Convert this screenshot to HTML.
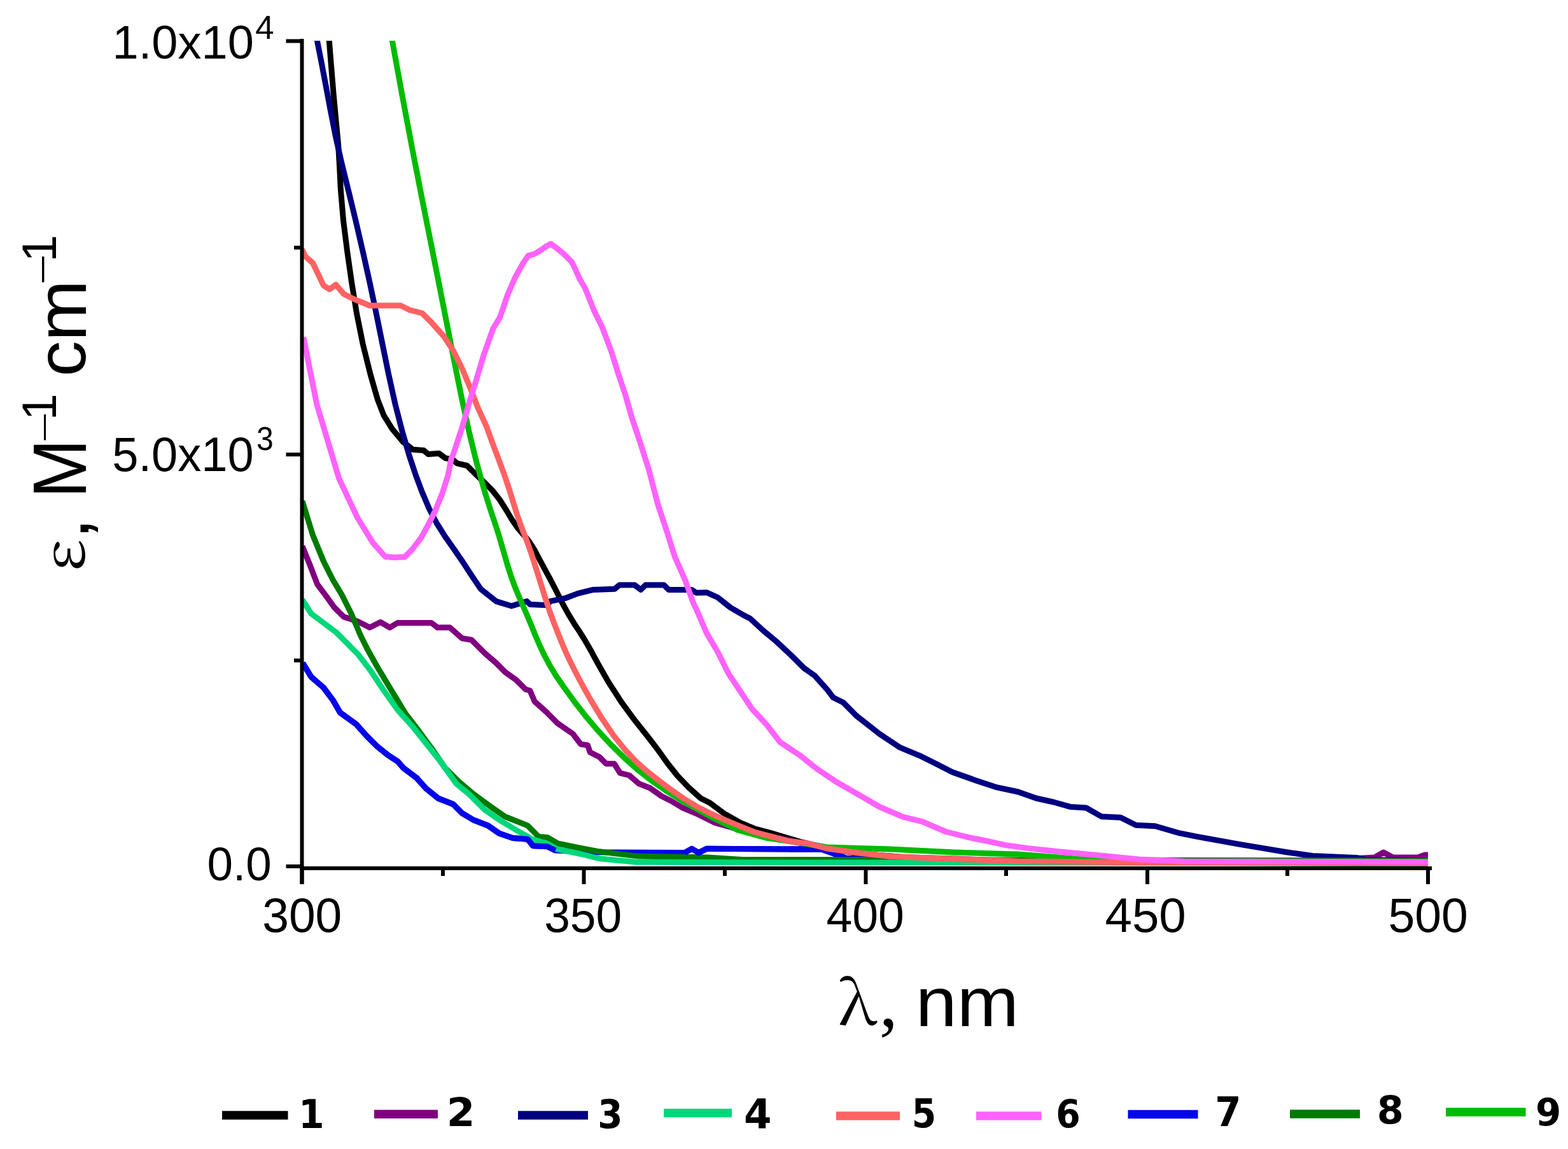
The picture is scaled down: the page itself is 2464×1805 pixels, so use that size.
<!DOCTYPE html>
<html><head><meta charset="utf-8"><title>Molar absorptivity spectra</title>
<style>
html,body{margin:0;padding:0;background:#fff;}
body{width:2464px;height:1805px;overflow:hidden;}
svg{display:block;}
.sans{font-family:"Liberation Sans",Arial,sans-serif;}
</style></head>
<body>
<svg width="2464" height="1805" viewBox="0 0 2464 1805">
<rect width="2464" height="1805" fill="#fff"/>
<defs><clipPath id="plot"><rect x="474" y="64" width="1776" height="1300"/></clipPath></defs>
<g clip-path="url(#plot)" fill="none" stroke-width="9" stroke-linejoin="round" stroke-linecap="butt">
<polyline points="517.2,58.0 517.4,65.7 520.3,101.4 523.9,145.4 528.1,190.8 531.6,227.4 533.4,258.2 535.4,298.4 539.6,346.8 545.7,395.2 552.6,443.7 560.5,492.1 570.2,540.5 582.3,589.0 593.6,628.2 603.0,652.4 616.2,673.6 633.1,693.9 648.9,706.3 665.8,707.5 673.0,713.6 690.0,712.3 699.7,719.6 711.8,722.0 718.2,727.8 733.9,731.5 747.4,744.9 760.8,757.5 773.7,770.4 785.6,785.5 796.0,802.0 805.0,817.2 813.9,829.9 823.3,840.7 832.0,851.3 839.9,863.9 847.9,879.0 856.3,894.6 864.9,910.5 874.3,928.7 884.0,948.1 893.4,965.2 902.0,979.2 910.5,992.0 918.7,1005.0 927.6,1020.4 939.3,1042.0 956.0,1071.2 976.5,1103.0 997.7,1131.8 1017.5,1156.6 1034.7,1179.1 1049.4,1199.6 1064.7,1218.9 1082.5,1237.3 1101.5,1254.3 1116.0,1261.6 1137.8,1277.9 1163.2,1292.4 1185.0,1301.5 1212.2,1308.8 1230.4,1314.2 1260.0,1323.0 1300.0,1332.0 1350.0,1341.0 1450.0,1349.0 1600.0,1353.0 1800.0,1355.0 2244.0,1355.0" stroke="#000000"/>
<polyline points="475.0,858.0 486.6,886.5 498.7,918.0 513.3,937.4 525.4,954.3 540.0,968.9 561.7,976.0 581.0,985.8 598.0,977.3 612.5,985.8 624.6,978.5 677.9,978.5 687.6,985.8 707.0,985.8 726.3,1002.8 740.9,1005.2 762.7,1027.0 779.6,1041.5 794.0,1056.0 811.0,1068.0 825.6,1082.7 832.9,1085.0 840.0,1101.8 858.2,1118.1 876.3,1136.3 900.0,1152.6 912.6,1169.0 923.5,1170.8 927.2,1181.7 941.7,1189.0 952.6,1199.8 965.3,1199.8 974.4,1214.4 988.9,1218.0 1003.4,1230.7 1021.6,1238.0 1039.7,1250.7 1054.3,1258.0 1072.4,1268.8 1097.8,1279.7 1123.3,1292.4 1150.0,1300.0 1200.0,1312.0 1240.0,1320.0 1300.0,1334.0 1400.0,1346.0 1500.0,1349.0 1600.0,1353.0 2100.0,1352.0 2140.0,1348.0 2160.0,1347.0 2174.0,1339.0 2189.0,1347.0 2228.0,1347.0 2239.0,1343.0 2244.0,1343.0" stroke="#800080"/>
<polyline points="498.3,58.0 498.7,65.7 505.3,98.9 512.2,135.3 519.4,174.0 527.1,213.0 536.3,253.8 547.4,298.8 559.0,346.7 570.2,395.2 581.0,443.7 591.2,492.1 601.0,540.5 610.8,588.6 621.1,635.0 632.1,677.8 642.9,715.0 653.3,746.4 663.7,774.1 674.6,799.5 686.3,822.0 699.1,842.3 713.0,862.2 726.8,882.1 739.9,902.2 755.4,925.3 779.6,944.6 803.8,952.0 828.0,944.6 833.0,949.5 860.0,950.7 864.2,944.6 888.4,939.7 907.8,932.4 932.0,926.4 965.9,925.2 973.2,919.1 997.4,919.1 1007.0,926.4 1014.3,919.1 1043.4,919.1 1050.7,926.4 1087.0,926.4 1094.2,931.2 1110.8,930.8 1127.8,938.5 1148.1,954.6 1168.5,966.4 1178.6,971.5 1199.0,990.2 1219.3,1007.1 1243.0,1029.2 1263.4,1049.5 1280.3,1061.4 1300.0,1083.4 1309.3,1095.7 1325.0,1103.5 1345.7,1124.4 1382.2,1153.0 1413.4,1173.8 1444.6,1186.8 1470.7,1199.8 1496.7,1212.9 1533.1,1225.9 1564.3,1236.3 1600.0,1244.0 1628.3,1254.0 1655.4,1260.0 1682.5,1267.6 1706.7,1269.0 1730.8,1282.7 1761.0,1284.2 1785.0,1296.3 1815.2,1297.8 1851.4,1308.3 1881.6,1314.4 1914.7,1320.4 1948.0,1326.4 1984.0,1332.4 2020.3,1338.5 2062.5,1344.5 2131.9,1347.5 2147.0,1350.5 2244.0,1352.0" stroke="#000080"/>
<polyline points="1240.0,1334.0 1290.0,1334.0 1330.0,1348.0 1500.0,1354.0 2244.0,1355.0" stroke="#0505EA"/>
<polyline points="475.7,1041.5 489.0,1063.3 508.4,1080.2 523.0,1099.6 534.5,1119.5 559.3,1137.3 576.3,1156.2 592.7,1172.6 609.0,1185.7 625.4,1196.6 633.8,1206.4 655.1,1222.4 669.3,1238.4 688.8,1254.3 711.9,1263.2 726.0,1277.4 743.8,1288.0 766.9,1297.0 784.6,1309.3 805.9,1316.4 829.0,1318.2 837.8,1328.8 860.0,1329.7 872.7,1336.0 930.8,1338.7 1076.0,1339.6 1087.0,1333.3 1097.8,1339.6 1110.5,1333.3 1240.0,1334.0 1290.0,1334.0" stroke="#0505EA"/>
<polyline points="475.0,787.0 491.5,840.5 508.4,881.7 523.0,910.7 537.5,935.0 552.0,964.0 566.5,998.0 577.4,1020.0 592.7,1047.2 609.0,1074.5 627.6,1105.0 637.4,1121.3 655.1,1144.3 679.9,1178.0 699.5,1206.4 720.7,1227.7 743.8,1247.2 770.4,1266.7 793.5,1282.7 829.0,1296.9 846.7,1314.6 860.0,1315.5 876.3,1325.0 912.6,1332.4 941.7,1337.8 1003.4,1345.1 1112.4,1347.0 1166.8,1350.5 1240.0,1350.5 2244.0,1352.0" stroke="#007A00"/>
<polyline points="475.0,942.0 489.0,964.0 508.4,978.5 527.8,993.0 547.2,1012.4 563.3,1028.7 581.8,1052.7 603.6,1085.4 625.4,1116.0 647.2,1140.0 669.0,1167.1 690.8,1194.4 717.2,1231.3 736.7,1247.2 761.6,1272.0 784.6,1288.0 811.2,1304.0 836.0,1318.2 860.0,1325.3 876.3,1334.2 912.6,1341.5 941.7,1348.7 999.8,1354.2 1240.0,1355.0 2244.0,1356.0" stroke="#00D77A"/>
<polyline points="475.7,1041.5 489.0,1063.3 508.4,1080.2 523.0,1099.6 534.5,1119.5 559.3,1137.3 576.3,1156.2 592.7,1172.6 609.0,1185.7 625.4,1196.6 633.8,1206.4 655.1,1222.4 669.3,1238.4 688.8,1254.3 711.9,1263.2 726.0,1277.4 743.8,1288.0 766.9,1297.0 784.6,1309.3 805.9,1316.4 829.0,1318.2 837.8,1328.8 860.0,1329.7 872.7,1336.0" stroke="#0505EA"/>
<polyline points="1076.0,1339.6 1087.0,1333.3 1097.8,1339.6 1110.5,1333.3 1240.0,1334.0 1290.0,1334.0" stroke="#0505EA"/>
<polyline points="615.0,58.0 616.5,65.0 632.5,152.5 648.1,235.0 662.9,310.8 676.7,379.9 689.5,444.1 701.8,506.6 714.0,568.4 725.8,626.9 737.5,680.1 749.2,727.7 760.5,768.3 770.3,799.7 778.0,822.6 783.9,840.8 788.8,857.8 793.7,874.7 798.7,891.7 804.3,908.9 811.1,926.8 819.1,945.6 827.3,964.2 834.6,981.5 841.1,997.7 847.9,1013.6 855.6,1029.7 864.0,1045.5 873.8,1061.6 886.4,1079.9 902.0,1101.4 920.0,1124.6 939.5,1147.6 959.8,1169.5 980.4,1189.8 1000.9,1208.1 1022.5,1225.2 1048.0,1243.0 1079.4,1262.4 1116.8,1282.9 1157.8,1303.3 1203.1,1316.0 1240.0,1321.5 1300.0,1331.0 1400.0,1334.0 1500.0,1339.0 1600.0,1342.0 1640.0,1345.0 1700.0,1350.0 1800.0,1355.0 2244.0,1357.0" stroke="#00BB00"/>
<polyline points="474.5,391.4 479.4,402.4 491.5,413.0 508.4,448.4 518.0,454.5 527.8,447.2 540.0,461.7 556.9,470.2 581.0,480.0 629.5,480.0 644.0,487.0 663.4,492.0 678.0,506.5 697.3,528.3 711.8,550.0 726.3,579.2 738.4,608.2 750.6,639.7 765.0,671.2 774.9,698.8 784.5,723.9 793.3,748.0 800.6,770.0 806.6,789.4 812.0,806.7 817.3,822.3 822.7,836.6 828.3,850.9 833.9,866.5 839.3,883.2 844.8,900.6 850.7,919.6 857.2,940.3 863.9,960.6 870.7,979.1 877.5,996.3 884.2,1013.0 891.0,1028.6 897.8,1042.7 905.0,1057.0 914.5,1075.0 928.0,1099.1 945.1,1127.4 964.1,1155.2 983.0,1178.7 1000.2,1197.0 1016.9,1211.7 1034.4,1225.5 1053.3,1239.8 1073.5,1254.0 1094.8,1266.9 1117.0,1278.2 1140.5,1288.7 1163.7,1298.3 1185.0,1307.0 1212.2,1314.2 1240.0,1321.5 1270.0,1325.0 1300.0,1333.0 1350.0,1340.0 1400.0,1345.5 1500.0,1349.5 1600.0,1353.0 1800.0,1355.0 2244.0,1356.0" stroke="#FF6262"/>
<polyline points="476.5,530.0 477.6,532.9 482.4,558.0 490.2,596.8 497.9,635.5 509.5,674.2 521.1,712.9 532.7,751.6 546.3,780.6 561.8,813.5 585.9,852.6 605.3,874.4 620.0,875.8 636.3,874.7 647.2,863.8 661.4,845.3 673.4,823.5 684.3,801.7 695.2,774.5 703.9,747.2 709.3,720.0 711.8,714.8 726.3,671.2 736.0,637.3 748.0,598.5 760.2,557.4 774.8,516.2 785.7,498.4 798.1,462.0 809.7,435.4 822.1,413.2 830.0,401.7 839.8,399.0 848.7,393.7 857.6,387.5 865.5,383.0 875.3,390.2 886.0,399.0 898.4,411.4 903.7,422.0 910.8,438.0 919.6,453.1 926.7,470.9 933.8,488.6 946.5,514.3 961.0,553.0 970.8,584.6 982.9,620.9 992.5,654.8 1004.6,691.0 1019.2,736.3 1033.7,792.0 1048.2,835.6 1060.3,874.3 1077.3,913.0 1089.4,947.0 1093.9,956.3 1110.8,995.3 1127.8,1024.0 1144.7,1058.0 1161.7,1083.4 1182.0,1113.9 1204.0,1137.6 1226.0,1166.0 1257.3,1186.8 1283.3,1207.6 1314.5,1228.5 1351.0,1249.3 1382.2,1267.5 1418.6,1283.1 1449.8,1290.9 1486.3,1306.5 1520.0,1315.0 1550.0,1321.0 1580.0,1327.6 1616.0,1332.6 1666.0,1338.0 1735.0,1344.6 1790.0,1350.0 1860.0,1353.0 2244.0,1354.0" stroke="#FF62FF"/>
</g>
<g stroke="#000" stroke-width="6" fill="none">
<line x1="474.5" y1="61" x2="474.5" y2="1389"/>
<line x1="471.5" y1="1364" x2="2250" y2="1364"/>
<line x1="474.5" y1="1364" x2="474.5" y2="1389"/>
<line x1="917.5" y1="1364" x2="917.5" y2="1389"/>
<line x1="1360.5" y1="1364" x2="1360.5" y2="1389"/>
<line x1="1803.0" y1="1364" x2="1803.0" y2="1389"/>
<line x1="2244.0" y1="1364" x2="2244.0" y2="1389"/>
<line x1="696.0" y1="1364" x2="696.0" y2="1376"/>
<line x1="1139.0" y1="1364" x2="1139.0" y2="1376"/>
<line x1="1581.0" y1="1364" x2="1581.0" y2="1376"/>
<line x1="2023.0" y1="1364" x2="2023.0" y2="1376"/>
<line x1="449.5" y1="64.5" x2="474" y2="64.5"/>
<line x1="449.5" y1="714.0" x2="474" y2="714.0"/>
<line x1="449.5" y1="1361.0" x2="474" y2="1361.0"/>
<line x1="462" y1="389.0" x2="474" y2="389.0"/>
<line x1="462" y1="1037.5" x2="474" y2="1037.5"/>
</g>
<text transform="matrix(1.0128 0 0 1.0154 412.26 1464.20)" font-family="&quot;Liberation Sans&quot;, Arial, sans-serif" font-weight="normal" font-size="74" fill="#000">300</text>
<text transform="matrix(0.9889 0 0 1.0154 855.13 1464.20)" font-family="&quot;Liberation Sans&quot;, Arial, sans-serif" font-weight="normal" font-size="74" fill="#000">350</text>
<text transform="matrix(0.9924 0 0 1.0154 1298.42 1464.20)" font-family="&quot;Liberation Sans&quot;, Arial, sans-serif" font-weight="normal" font-size="74" fill="#000">400</text>
<text transform="matrix(1.0314 0 0 1.0154 1736.44 1464.20)" font-family="&quot;Liberation Sans&quot;, Arial, sans-serif" font-weight="normal" font-size="74" fill="#000">450</text>
<text transform="matrix(1.0162 0 0 1.0154 2181.45 1464.20)" font-family="&quot;Liberation Sans&quot;, Arial, sans-serif" font-weight="normal" font-size="74" fill="#000">500</text>
<text transform="matrix(1.0005 0 0 1.0135 176.60 92.20)" font-family="&quot;Liberation Sans&quot;, Arial, sans-serif" font-weight="normal" font-size="74" fill="#000">1.0x10</text>
<text transform="matrix(1.0346 0 0 1.0139 401.27 60.50)" font-family="&quot;Liberation Sans&quot;, Arial, sans-serif" font-weight="normal" font-size="51" fill="#000">4</text>
<text transform="matrix(1.0009 0 0 1.0288 176.30 739.50)" font-family="&quot;Liberation Sans&quot;, Arial, sans-serif" font-weight="normal" font-size="74" fill="#000">5.0x10</text>
<text transform="matrix(0.9417 0 0 1.0167 402.92 707.20)" font-family="&quot;Liberation Sans&quot;, Arial, sans-serif" font-weight="normal" font-size="51" fill="#000">3</text>
<text transform="matrix(0.9835 0 0 1.0096 325.45 1382.50)" font-family="&quot;Liberation Sans&quot;, Arial, sans-serif" font-weight="normal" font-size="74" fill="#000">0.0</text>
<text transform="matrix(0.9365 0 0 0.8500 1317.19 1610.00)" font-family="&quot;Noto Serif CJK SC&quot;, &quot;Liberation Serif&quot;, serif" font-weight="normal" font-size="112" fill="#000">λ</text>
<text transform="matrix(1.0412 0 0 1.0345 1381.84 1612.41)" font-family="&quot;Liberation Serif&quot;, &quot;Times New Roman&quot;, serif" font-weight="normal" font-size="112" fill="#000">,</text>
<text transform="matrix(1.0426 0 0 0.9833 1438.70 1611.70)" font-family="&quot;Liberation Sans&quot;, Arial, sans-serif" font-weight="normal" font-size="112" fill="#000">nm</text>
<text transform="matrix(0 -0.9261 0.8098 0 132.78 897.76)" font-family="&quot;Noto Serif CJK SC&quot;, &quot;Liberation Serif&quot;, serif" font-weight="normal" font-size="112" fill="#000">ε</text>
<text transform="matrix(0 -1.1000 1.0500 0 138.60 847.50)" font-family="&quot;Liberation Sans&quot;, Arial, sans-serif" font-weight="normal" font-size="112" fill="#000">,</text>
<text transform="matrix(0 -1.0000 1.0671 0 134.70 782.70)" font-family="&quot;Liberation Sans&quot;, Arial, sans-serif" font-weight="normal" font-size="112" fill="#000">M</text>
<text transform="matrix(0 -1.1912 0.6200 0 85.42 695.57)" font-family="&quot;Liberation Sans&quot;, Arial, sans-serif" font-weight="normal" font-size="70" fill="#000">−</text>
<text transform="matrix(0 -1.0758 1.0755 0 87.50 660.23)" font-family="&quot;Liberation Sans&quot;, Arial, sans-serif" font-weight="normal" font-size="70" fill="#000">1</text>
<text transform="matrix(0 -1.0021 0.9754 0 134.22 591.51)" font-family="&quot;Liberation Sans&quot;, Arial, sans-serif" font-weight="normal" font-size="112" fill="#000">c</text>
<text transform="matrix(0 -1.0316 0.9917 0 135.20 535.92)" font-family="&quot;Liberation Sans&quot;, Arial, sans-serif" font-weight="normal" font-size="112" fill="#000">m</text>
<text transform="matrix(0 -1.1882 0.7000 0 84.10 447.36)" font-family="&quot;Liberation Sans&quot;, Arial, sans-serif" font-weight="normal" font-size="70" fill="#000">−</text>
<text transform="matrix(0 -1.0955 1.0939 0 88.20 411.54)" font-family="&quot;Liberation Sans&quot;, Arial, sans-serif" font-weight="normal" font-size="70" fill="#000">1</text>
<line x1="349.0" y1="1752.0" x2="452.5" y2="1752.0" stroke="#000000" stroke-width="13.5"/>
<text transform="matrix(0.9000 0 0 0.9708 469.00 1771.90)" font-family="&quot;DejaVu Sans&quot;, sans-serif" font-weight="bold" font-size="65" fill="#000">1</text>
<line x1="588.0" y1="1750.2" x2="688.0" y2="1750.2" stroke="#800080" stroke-width="13.5"/>
<text transform="matrix(0.9886 0 0 0.9490 701.86 1768.50)" font-family="&quot;DejaVu Sans&quot;, sans-serif" font-weight="bold" font-size="65" fill="#000">2</text>
<line x1="814.0" y1="1752.0" x2="924.0" y2="1752.0" stroke="#000080" stroke-width="13.5"/>
<text transform="matrix(0.8694 0 0 0.9580 939.22 1771.54)" font-family="&quot;DejaVu Sans&quot;, sans-serif" font-weight="bold" font-size="65" fill="#000">3</text>
<line x1="1043.0" y1="1748.5" x2="1150.0" y2="1748.5" stroke="#00D77A" stroke-width="13.5"/>
<text transform="matrix(0.9641 0 0 0.9979 1169.11 1772.50)" font-family="&quot;DejaVu Sans&quot;, sans-serif" font-weight="bold" font-size="65" fill="#000">4</text>
<line x1="1314.0" y1="1753.0" x2="1414.0" y2="1753.0" stroke="#FF6262" stroke-width="13.5"/>
<text transform="matrix(0.8500 0 0 0.9490 1432.75 1770.85)" font-family="&quot;DejaVu Sans&quot;, sans-serif" font-weight="bold" font-size="65" fill="#000">5</text>
<line x1="1534.0" y1="1753.0" x2="1636.5" y2="1753.0" stroke="#FF62FF" stroke-width="13.5"/>
<text transform="matrix(0.8526 0 0 0.9400 1659.19 1771.06)" font-family="&quot;DejaVu Sans&quot;, sans-serif" font-weight="bold" font-size="65" fill="#000">6</text>
<line x1="1772.5" y1="1750.5" x2="1882.5" y2="1750.5" stroke="#0505EA" stroke-width="13.5"/>
<text transform="matrix(0.9111 0 0 0.9750 1909.36 1768.70)" font-family="&quot;DejaVu Sans&quot;, sans-serif" font-weight="bold" font-size="65" fill="#000">7</text>
<line x1="2027.0" y1="1750.0" x2="2137.0" y2="1750.0" stroke="#007A00" stroke-width="13.5"/>
<text transform="matrix(0.9297 0 0 0.9240 2163.68 1764.68)" font-family="&quot;DejaVu Sans&quot;, sans-serif" font-weight="bold" font-size="65" fill="#000">8</text>
<line x1="2272.0" y1="1747.0" x2="2397.5" y2="1747.0" stroke="#00BB00" stroke-width="13.5"/>
<text transform="matrix(0.8895 0 0 0.9060 2412.93 1767.79)" font-family="&quot;DejaVu Sans&quot;, sans-serif" font-weight="bold" font-size="65" fill="#000">9</text>
</svg>
</body></html>
